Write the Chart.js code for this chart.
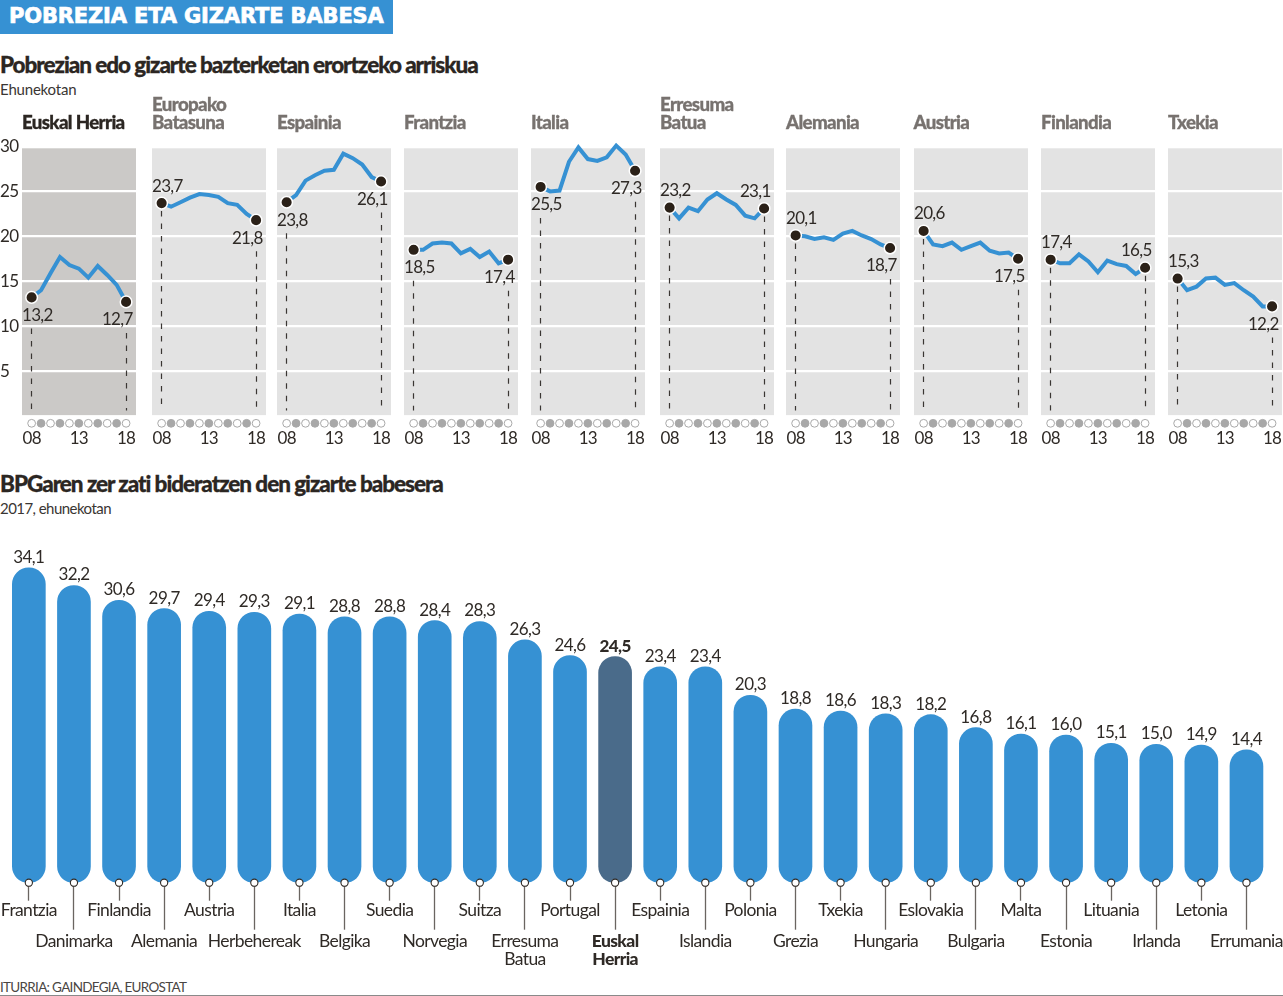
<!DOCTYPE html>
<html lang="eu">
  <head>
    <meta charset="UTF-8" />
    <title>Pobrezia eta gizarte babesa</title>
    <style>
      html, body { margin: 0; padding: 0; background: #fff; overflow: hidden; }
      body { width: 1283px; height: 996px; position: relative; font-family: Lato, sans-serif; color: #2b2622; }
      canvas { position: absolute; }
      .txt { position: absolute; white-space: nowrap; }
      #banner { position: absolute; left: 0; top: 0; width: 393px; height: 34px; background: #3691d3; }
      #banner span { position: absolute; left: 9px; top: 3px; font: bold 21px/26px "DejaVu Sans", sans-serif; color: #fff; letter-spacing: -0.15px; -webkit-text-stroke: 0.7px #fff; }
      .head { font-weight: 900; font-size: 22.5px; line-height: 26px; letter-spacing: -1.04px; -webkit-text-stroke: 0.3px #2b2622; }
      .sub { font-size: 15px; line-height: 18px; color: #3a3633; }
      .panelTitle { font-weight: 900; font-size: 18.7px; line-height: 18px; letter-spacing: -0.65px; color: #77726f; -webkit-text-stroke: 0.3px currentColor; }
      #source { left: 0; top: 979px; font-size: 13.5px; line-height: 16px; letter-spacing: -0.7px; color: #4a4643; }
      #rule { position: absolute; left: 0; top: 995px; width: 1283px; height: 1px; background: #8a8a8a; }
    </style>
  </head>
  <body>
    <div id="banner"><span>POBREZIA ETA GIZARTE BABESA</span></div>
    <div class="txt head" style="left:0;top:52px">Pobrezian edo gizarte bazterketan erortzeko arriskua</div>
    <div class="txt sub" style="left:0;top:80px;letter-spacing:-0.2px">Ehunekotan</div>
    <div class="txt head" style="left:0;top:471px">BPGaren zer zati bideratzen den gizarte babesera</div>
    <div class="txt sub" style="left:0;top:499px;letter-spacing:-0.55px">2017, ehunekotan</div>
    <div class="txt" id="source">ITURRIA: GAINDEGIA, EUROSTAT</div>
    <div id="rule"></div>

    <script src="https://cdn.jsdelivr.net/npm/chart.js"></script>
    <script>
      // goiko grafikoak: urteak eta herrialdeak
      const years = [2008, 2009, 2010, 2011, 2012, 2013, 2014, 2015, 2016, 2017, 2018];
      const labelYears = [2008, 2013, 2018];
      const yTickValues = [5, 10, 15, 20, 25, 30];

      const euskalHerria = [13.2, 14.0, 15.9, 17.7, 16.8, 16.4, 15.4, 16.7, 15.7, 14.6, 12.7];
      const europakoBatasuna = [23.7, 23.3, 23.8, 24.3, 24.7, 24.6, 24.4, 23.7, 23.5, 22.5, 21.8];
      const espainia = [23.8, 24.6, 26.2, 26.8, 27.3, 27.4, 29.2, 28.7, 28.0, 26.6, 26.1];
      const frantzia = [18.5, 18.5, 19.2, 19.3, 19.2, 18.1, 18.6, 17.7, 18.3, 17.0, 17.4];
      const italia = [25.5, 25.0, 25.1, 28.3, 29.9, 28.6, 28.4, 28.8, 30.1, 29.1, 27.3];
      const erresumaBatua = [23.2, 22.0, 23.2, 22.8, 24.1, 24.8, 24.1, 23.5, 22.3, 22.0, 23.1];
      const alemania = [20.1, 20.0, 19.7, 19.9, 19.6, 20.3, 20.6, 20.1, 19.7, 19.1, 18.7];
      const austria = [20.6, 19.1, 18.9, 19.3, 18.5, 18.9, 19.3, 18.4, 18.1, 18.2, 17.5];
      const finlandia = [17.4, 17.0, 17.0, 18.0, 17.2, 16.0, 17.3, 16.9, 16.7, 15.8, 16.5];
      const txekia = [15.3, 14.0, 14.4, 15.3, 15.4, 14.6, 14.8, 14.0, 13.3, 12.2, 12.2];

      const lineSeries = [euskalHerria, europakoBatasuna, espainia, frantzia, italia, erresumaBatua, alemania, austria, finlandia, txekia];
      const lineTitles = [["Euskal Herria"], ["Europako", "Batasuna"], ["Espainia"], ["Frantzia"], ["Italia"], ["Erresuma", "Batua"], ["Alemania"], ["Austria"], ["Finlandia"], ["Txekia"]];
      const startLabelAbove = [false, true, false, false, false, true, true, true, true, true];
      const endLabelAbove = [false, false, false, false, false, true, false, false, true, false];
      const panelLefts = [22, 152, 277, 404, 531, 660, 786, 913.5, 1041, 1168];

      // beheko grafikoa: BPGaren zatia, 2017
      const barCategories = ["Frantzia", "Danimarka", "Finlandia", "Alemania", "Austria", "Herbehereak", "Italia", "Belgika", "Suedia", "Norvegia", "Suitza", "Erresuma Batua", "Portugal", "Euskal Herria", "Espainia", "Islandia", "Polonia", "Grezia", "Txekia", "Hungaria", "Eslovakia", "Bulgaria", "Malta", "Estonia", "Lituania", "Irlanda", "Letonia", "Errumania"];
      const barValues = [34.1, 32.2, 30.6, 29.7, 29.4, 29.3, 29.1, 28.8, 28.8, 28.4, 28.3, 26.3, 24.6, 24.5, 23.4, 23.4, 20.3, 18.8, 18.6, 18.3, 18.2, 16.8, 16.1, 16.0, 15.1, 15.0, 14.9, 14.4];
      const highlightBar = "Euskal Herria";

      const BLUE = "#3691d3";
      const DARK = "#2f2a26";
      const FONT = "Lato, sans-serif";

      const comma = (v) => v.toFixed(1).replace(".", ",");

      function addCanvas(left, top, width, height) {
        const c = document.createElement("canvas");
        c.width = width;
        c.height = height;
        c.style.left = left + "px";
        c.style.top = top + "px";
        c.style.width = width + "px";
        c.style.height = height + "px";
        document.body.appendChild(c);
        return c;
      }

      // panelaren atzeko planoa, marra etenak, urte-puntuak eta balioak
      const panelPlugin = {
        id: "panel",
        beforeDraw(chart, args, opts) {
          const { ctx, chartArea: a, scales: { y } } = chart;
          ctx.letterSpacing = "-0.7px";
          ctx.save();
          ctx.fillStyle = opts.background;
          ctx.fillRect(a.left, y.getPixelForValue(29.8), a.right - a.left, y.getPixelForValue(0.1) - y.getPixelForValue(29.8));
          ctx.restore();
        },
        beforeDatasetsDraw(chart, args, opts) {
          const { ctx, scales: { x, y } } = chart;
          const values = opts.values;
          ctx.save();
          ctx.strokeStyle = "#3a3633";
          ctx.lineWidth = 1.2;
          ctx.setLineDash([5.5, 7]);
          [[0, opts.startAbove], [values.length - 1, opts.endAbove]].forEach(([i, above]) => {
            const px = Math.floor(x.getPixelForValue(years[i])) + 0.5;
            const py = y.getPixelForValue(values[i]);
            ctx.beginPath();
            ctx.moveTo(px, above ? py + 8 : py + 31);
            ctx.lineTo(px, y.getPixelForValue(0.6));
            ctx.stroke();
          });
          ctx.restore();
        },
        afterDatasetsDraw(chart, args, opts) {
          const { ctx, chartArea: a, scales: { x, y } } = chart;
          const values = opts.values;
          ctx.save();
          ctx.font = "17px " + FONT;
          ctx.fillStyle = DARK;
          ctx.textBaseline = "middle";
          const last = values.length - 1;
          ctx.textAlign = "left";
          ctx.fillText(comma(values[0]), a.left, y.getPixelForValue(values[0]) + (opts.startAbove ? -17 : 18));
          ctx.textAlign = "right";
          ctx.fillText(comma(values[last]), x.getPixelForValue(years[last]) + 6.5, y.getPixelForValue(values[last]) + (opts.endAbove ? -17 : 18));
          // urte bakoitzeko puntua ardatzaren gainean
          years.forEach((yr, i) => {
            ctx.beginPath();
            ctx.arc(x.getPixelForValue(yr), a.bottom + 7.3, 3.9, 0, Math.PI * 2);
            ctx.fillStyle = i % 2 ? "#a8a8a8" : "#fff";
            ctx.fill();
            ctx.lineWidth = 1;
            ctx.strokeStyle = "#a8a8a8";
            ctx.stroke();
          });
          ctx.restore();
        },
      };

      lineSeries.forEach((values, i) => {
        const canvas = addCanvas(panelLefts[i] - 22, 130, 137, 320);
        new Chart(canvas, {
          type: "line",
          data: {
            datasets: [
              {
                data: years.map((yr, k) => ({ x: yr, y: values[k] })),
                borderColor: BLUE,
                borderWidth: 4,
                tension: 0,
                clip: false,
                pointRadius: (c) => (c.dataIndex === 0 || c.dataIndex === years.length - 1 ? 5.8 : 0),
                pointBackgroundColor: "#2b2118",
                pointBorderColor: "#fff",
                pointBorderWidth: 1.5,
              },
            ],
          },
          options: {
            responsive: false,
            animation: false,
            events: [],
            layout: { autoPadding: false, padding: { top: 16.5, right: 1, left: 0, bottom: 0 } },
            plugins: {
              legend: { display: false },
              tooltip: { enabled: false },
              panel: {
                values: values,
                startAbove: startLabelAbove[i],
                endAbove: endLabelAbove[i],
                background: i === 0 ? "#cbc9c7" : "#e3e3e3",
              },
            },
            scales: {
              x: {
                type: "linear",
                min: 2006.98,
                max: 2019.05,
                grid: { display: false },
                border: { display: false },
                ticks: {
                  stepSize: 1,
                  includeBounds: false,
                  autoSkip: false,
                  maxRotation: 0,
                  padding: 4.4,
                  color: DARK,
                  font: { family: FONT, size: 17 },
                  callback: (v) => (labelYears.includes(v) ? String(v).slice(2) : ""),
                },
                afterFit(s) {
                  s.height = 34;
                  s.paddingLeft = 0;
                  s.paddingRight = 0;
                },
              },
              y: {
                min: 0,
                max: 30,
                grid: {
                  color: (c) => (yTickValues.slice(0, 5).includes(c.tick.value) ? "#fff" : "rgba(0,0,0,0)"),
                  lineWidth: 2.2,
                  drawTicks: false,
                },
                border: { display: false },
                ticks: {
                  display: i === 0,
                  stepSize: 5,
                  crossAlign: "far",
                  padding: 0,
                  color: DARK,
                  font: { family: FONT, size: 17 },
                  callback: (v) => (yTickValues.includes(v) ? String(v) : ""),
                },
                afterFit(s) {
                  s.width = 22;
                },
              },
            },
          },
          plugins: [panelPlugin],
        });
      });

      lineTitles.forEach((lines, i) => {
        const d = document.createElement("div");
        d.className = "txt panelTitle";
        d.style.left = panelLefts[i] + "px";
        d.style.top = 131 - lines.length * 18 + "px";
        if (i === 0) d.style.color = "#2b2622";
        d.innerHTML = lines.join("<br>");
        document.body.appendChild(d);
      });

      // balioak, zutoin txikiak eta zirkuluak barren azpian
      const barPlugin = {
        id: "barNotes",
        beforeDraw(chart) {
          chart.ctx.letterSpacing = "-0.6px";
        },
        afterDatasetsDraw(chart) {
          const { ctx, scales: { x, y } } = chart;
          ctx.save();
          ctx.textAlign = "center";
          ctx.textBaseline = "middle";
          const base = y.getPixelForValue(0);
          barValues.forEach((v, i) => {
            const px = x.getPixelForValue(i);
            ctx.font = (barCategories[i] === highlightBar ? "900 " : "") + "17px " + FONT;
            ctx.fillStyle = DARK;
            ctx.fillText(comma(v), px, y.getPixelForValue(v) - 10.5);
            ctx.beginPath();
            ctx.moveTo(Math.floor(px) + 0.5, base);
            ctx.lineTo(Math.floor(px) + 0.5, i % 2 ? base + 47 : base + 18);
            ctx.strokeStyle = "#6a6561";
            ctx.lineWidth = 1.3;
            ctx.stroke();
            ctx.beginPath();
            ctx.arc(px, base, 3.6, 0, Math.PI * 2);
            ctx.fillStyle = "#fff";
            ctx.fill();
            ctx.lineWidth = 1.1;
            ctx.strokeStyle = DARK;
            ctx.stroke();
          });
          ctx.restore();
        },
      };

      // etiketa-lerroak: bi mailatan, lerro hutsek banatzen dituzte
      function barTickLines(name, i) {
        const lead = i % 2 ? ["", "", "", "", ""] : [];
        const words = name.includes(" ") ? [name.split(" ")[0], "", "", name.split(" ")[1]] : [name];
        return lead.concat(words);
      }

      new Chart(addCanvas(0, 530, 1283, 445), {
        type: "bar",
        data: {
          labels: barCategories,
          datasets: [
            {
              data: barValues,
              backgroundColor: barCategories.map((c) => (c === highlightBar ? "#4a6b8a" : BLUE)),
              barThickness: 33,
              borderRadius: 17,
              borderSkipped: false,
            },
          ],
        },
        options: {
          responsive: false,
          animation: false,
          events: [],
          layout: { autoPadding: false, padding: { top: 20.4, left: 6.3, right: 14, bottom: 0 } },
          plugins: { legend: { display: false }, tooltip: { enabled: false } },
          scales: {
            x: {
              grid: { display: false },
              border: { display: false },
              ticks: {
                autoSkip: false,
                maxRotation: 0,
                padding: 17,
                color: DARK,
                font: (c) => ({
                  family: FONT,
                  size: 17.5,
                  lineHeight: "6.1px",
                  weight: barCategories[c.index] === highlightBar ? "900" : "400",
                }),
                callback: (v, i) => barTickLines(barCategories[i], i),
              },
              afterFit(s) {
                s.height = 92.3;
                s.paddingLeft = 0;
                s.paddingRight = 0;
              },
            },
            y: { display: false, min: 0, max: 36 },
          },
        },
        plugins: [barPlugin],
      });
    </script>
  </body>
</html>
